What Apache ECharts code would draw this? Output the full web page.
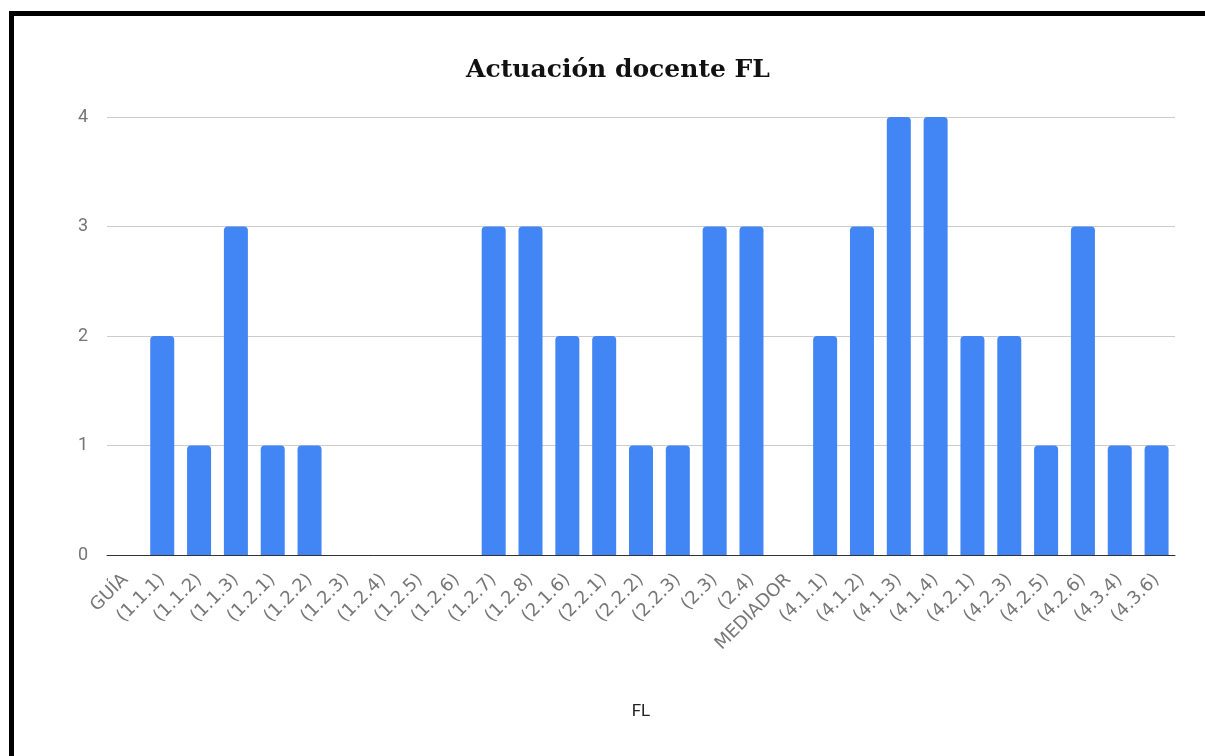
<!DOCTYPE html>
<html>
<head>
<meta charset="utf-8">
<script src="https://cdn.jsdelivr.net/npm/echarts@6/dist/echarts.min.js"></script>
<style>
  html, body { margin: 0; padding: 0; background: #fff; overflow: hidden; }
  #chart-container { position: absolute; left: 0; top: 0; width: 1205px; height: 756px; }
  #frame { position: absolute; left: 9px; top: 11px; width: 1300px; height: 900px;
           border-top: 5px solid #000; border-left: 5px solid #000; pointer-events: none; }
</style>
</head>
<body>
<div id="chart-container"></div>
<div id="frame"></div>
<script>
var categories = ['GUÍA', '(1.1.1)', '(1.1.2)', '(1.1.3)', '(1.2.1)', '(1.2.2)', '(1.2.3)', '(1.2.4)',
  '(1.2.5)', '(1.2.6)', '(1.2.7)', '(1.2.8)', '(2.1.6)', '(2.2.1)', '(2.2.2)', '(2.2.3)', '(2.3)',
  '(2.4)', 'MEDIADOR', '(4.1.1)', '(4.1.2)', '(4.1.3)', '(4.1.4)', '(4.2.1)', '(4.2.3)', '(4.2.5)',
  '(4.2.6)', '(4.3.4)', '(4.3.6)'];
var values = [0, 2, 1, 3, 1, 1, 0, 0, 0, 0, 3, 3, 2, 2, 1, 1, 3, 3, 0, 2, 3, 4, 4, 2, 2, 1, 3, 1, 1];
var yTicks = [0, 1, 2, 3, 4];

var dom = document.getElementById('chart-container');
var myChart = echarts.init(dom, null, { renderer: 'canvas' });

var option = {
  animation: false,
  title: {
    text: 'Actuación docente FL',
    left: 613,
    textAlign: 'center',
    top: 53,
    textStyle: { fontFamily: 'DejaVu Serif', fontWeight: 'bold', fontSize: 25, color: '#111' }
  },
  grid: { left: 107, right: 30, top: 117, bottom: 201, containLabel: false },
  xAxis: {
    type: 'category',
    data: categories,
    name: 'FL',
    nameLocation: 'middle',
    nameGap: 148,
    nameTextStyle: { fontFamily: 'Roboto', fontSize: 17, color: '#222' },
    axisLine: { lineStyle: { color: '#333', width: 1 } },
    axisTick: { show: false },
    axisLabel: {
      interval: 0,
      rotate: 45,
      margin: 22,
      fontFamily: 'DejaVu Sans',
      fontSize: 18,
      color: '#777777'
    }
  },
  yAxis: {
    type: 'value',
    min: yTicks[0],
    max: yTicks[yTicks.length - 1],
    interval: 1,
    axisLine: { show: false },
    axisTick: { show: false },
    axisLabel: { fontFamily: 'Roboto', fontSize: 18, color: '#757575', margin: 19 },
    splitLine: { lineStyle: { color: '#cccccc', width: 1 } }
  },
  series: [
    {
      type: 'bar',
      data: values,
      barWidth: 24,
      itemStyle: { color: '#4285F4', borderRadius: [4, 4, 0, 0] }
    }
  ]
};

myChart.setOption(option);
window.addEventListener('resize', myChart.resize);
</script>
</body>
</html>
